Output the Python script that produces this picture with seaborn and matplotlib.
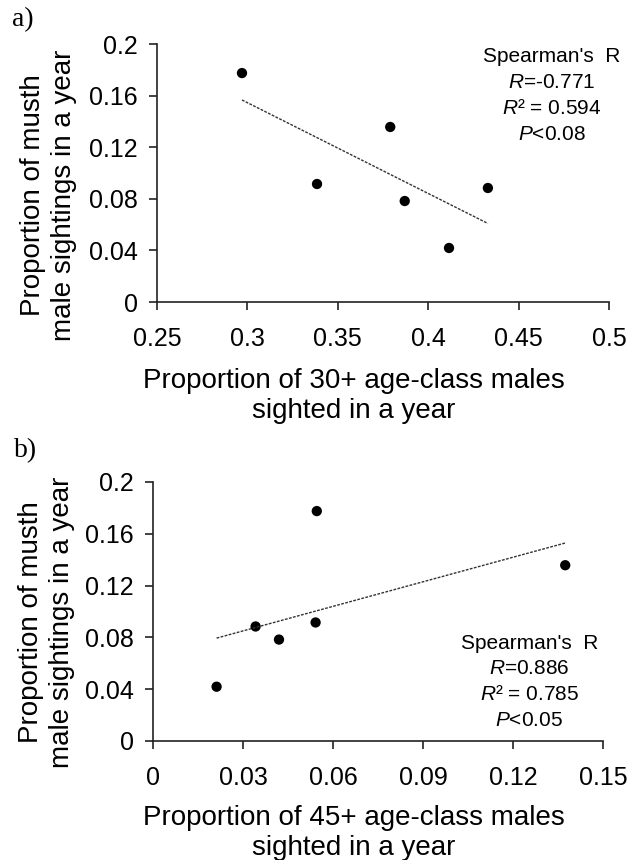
import matplotlib
matplotlib.use("Agg")
import matplotlib.pyplot as plt
import seaborn as sns
import pandas as pd

# panel a: proportion of 30+ males vs proportion of musth sightings
prop_30plus = [0.297, 0.3385, 0.379, 0.387, 0.4115, 0.433]
musth_a = [0.1775, 0.0915, 0.1357, 0.0783, 0.0419, 0.0884]

# panel b: proportion of 45+ males vs proportion of musth sightings
prop_45plus = [0.0212, 0.0342, 0.042, 0.0542, 0.0546, 0.1374]
musth_b = [0.0419, 0.0884, 0.0783, 0.0915, 0.1775, 0.1357]

y_ticks = [0, 0.04, 0.08, 0.12, 0.16, 0.2]
y_ticklabels = ["0", "0.04", "0.08", "0.12", "0.16", "0.2"]
xa_ticks = [0.25, 0.3, 0.35, 0.4, 0.45, 0.5]
xa_ticklabels = ["0.25", "0.3", "0.35", "0.4", "0.45", "0.5"]
xb_ticks = [0, 0.03, 0.06, 0.09, 0.12, 0.15]
xb_ticklabels = ["0", "0.03", "0.06", "0.09", "0.12", "0.15"]

stats_a = ["Spearman's  R", "$R$=-0.771", "$R$\u00b2 = 0.594", "$P$<0.08"]
stats_b = ["Spearman's  R", "$R$=0.886", "$R$\u00b2 = 0.785", "$P$<0.05"]

ylab = "Proportion of musth\nmale sightings in a year"
xlab_a = "Proportion of 30+ age-class males\nsighted in a year"
xlab_b = "Proportion of 45+ age-class males\nsighted in a year"

sns.set_style("ticks")
plt.rcParams["font.family"] = ["Liberation Sans", "DejaVu Sans"]
plt.rcParams["mathtext.fontset"] = "custom"
plt.rcParams["mathtext.rm"] = "Liberation Sans"
plt.rcParams["mathtext.it"] = "Liberation Sans:italic"
for key in ["text.color", "axes.labelcolor", "xtick.color", "ytick.color"]:
    plt.rcParams[key] = "black"

fig = plt.figure(figsize=(6.39, 8.6), dpi=100)
ax_a = fig.add_axes([0.2457, 0.6488, 0.7074, 0.300])
ax_b = fig.add_axes([0.2394, 0.1384, 0.7043, 0.3012])

panels = [
    (ax_a, prop_30plus, musth_a, xa_ticks, xa_ticklabels, xlab_a, stats_a,
     (0.873, 0.950), (-0.177, 0.415), (0.436, -0.256)),
    (ax_b, prop_45plus, musth_b, xb_ticks, xb_ticklabels, xlab_b, stats_b,
     (0.836, 0.378), (-0.173, 0.459), (0.447, -0.247)),
]

for ax, xs, ys, xt, xtl, xlab, stats, stat_pos, ylab_pos, xlab_pos in panels:
    df = pd.DataFrame({"x": xs, "y": ys})
    sns.regplot(data=df, x="x", y="y", ax=ax, ci=None,
                scatter_kws=dict(s=55, color="black", edgecolors="none", alpha=1),
                line_kws=dict(color="#333333", lw=1.0, dashes=(2, 1)))
    ax.set_xlim(xt[0], xt[-1])
    ax.set_ylim(0, 0.2)
    ax.set_xticks(xt)
    ax.set_xticklabels(xtl)
    ax.set_yticks(y_ticks)
    ax.set_yticklabels(y_ticklabels)
    ax.tick_params(axis="both", labelsize=18, length=6, width=1.2,
                   color="#222222", labelcolor="black", direction="out")
    ax.tick_params(axis="x", pad=12)
    ax.tick_params(axis="y", pad=8)
    sns.despine(ax=ax)
    for sp in ["left", "bottom"]:
        ax.spines[sp].set_linewidth(1.2)
        ax.spines[sp].set_color("#222222")
    ax.set_ylabel(ylab, fontsize=20, linespacing=1.25, color="black")
    ax.yaxis.set_label_coords(*ylab_pos)
    ax.set_xlabel(xlab, fontsize=20, linespacing=1.2, color="black")
    ax.xaxis.set_label_coords(*xlab_pos)
    for i, line in enumerate(stats):
        ax.text(stat_pos[0], stat_pos[1] - i * 0.1, line, transform=ax.transAxes,
                ha="center", va="center", fontsize=15, color="black")

fig.text(12 / 639, 1 - 7 / 860, "a)", family="Liberation Serif", fontsize=20,
         ha="left", va="top", color="black")
fig.text(14 / 639, 1 - 438 / 860, "b)", family="Liberation Serif", fontsize=20,
         ha="left", va="top", color="black")

fig.savefig("out.png", dpi=100)
